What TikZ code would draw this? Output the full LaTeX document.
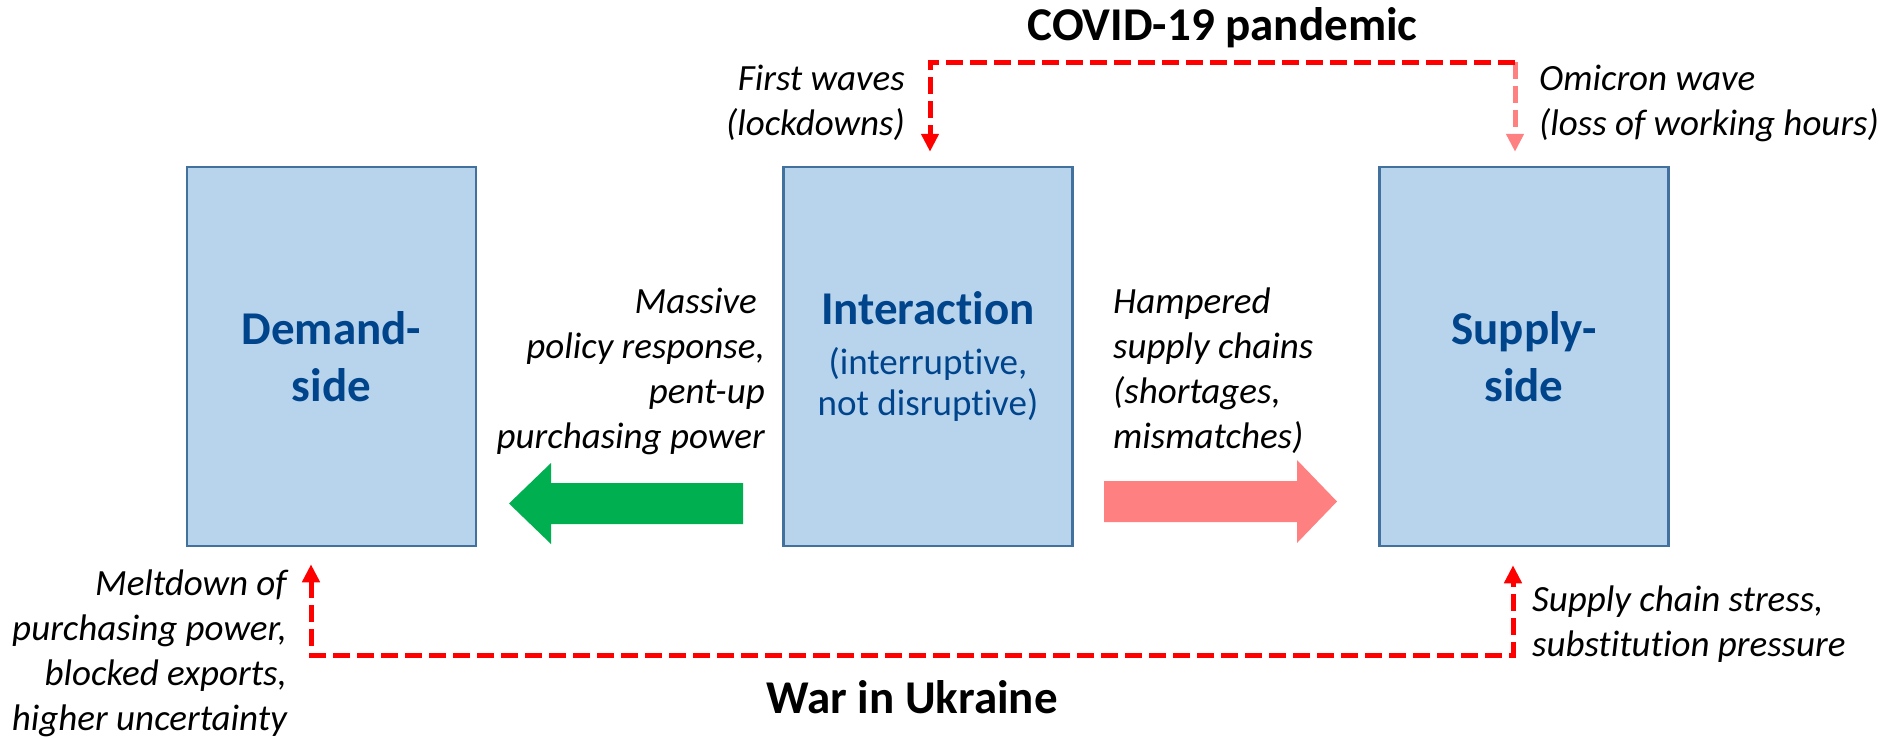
\documentclass[tikz,border=0pt]{standalone}
\usepackage{fontspec}
\setmainfont{Carlito}[Ligatures=NoCommon]
\usetikzlibrary{arrows.meta,calc}
\definecolor{boxfill}{RGB}{183,212,236}
\definecolor{boxline}{RGB}{65,113,156}
\definecolor{boxtext}{RGB}{0,68,140}
\definecolor{shockred}{RGB}{255,0,0}
\definecolor{shockpink}{RGB}{255,128,128}
\definecolor{arrgreen}{RGB}{0,176,80}
\definecolor{arrsalmon}{RGB}{255,128,128}
\begin{document}
\begin{tikzpicture}[x=1pt,y=-1pt,
  sidebox/.style={draw=boxline, line width=2.5pt, fill=boxfill, minimum width=289pt, minimum height=379pt, inner sep=0pt, text=boxtext, align=center, font=\fontsize{47}{57}\selectfont\bfseries},
  lbl/.style={font=\fontsize{37}{45}\selectfont\itshape, inner sep=0pt},
  headline/.style={font=\fontsize{47}{57}\selectfont\bfseries, inner sep=0pt, anchor=base},
  shock/.style={draw=shockred, line width=5pt, dash pattern=on 17pt off 7pt},
  tip/.style={-{Triangle[width=17pt,length=18pt]}},
]
\useasboundingbox (0,0) rectangle (1887,737);

% boxes
\node[sidebox] (dem) at (331.5,356.5) {Demand-\\side};
\node[sidebox, font=\fontsize{37}{41}\selectfont] (int) at (928,356.5) {{\fontsize{47}{57}\selectfont\bfseries Interaction}\\[9pt](interruptive,\\not disruptive)};
\node[sidebox] (sup) at (1524,356.5) {Supply-\\side};

% block arrows
\fill[arrgreen] (743,483) -- (551,483) -- (551,463) -- (509,503.5) -- (551,544) -- (551,524) -- (743,524) -- cycle;
\fill[arrsalmon] (1104,481) -- (1297,481) -- (1297,460) -- (1337,501.5) -- (1297,543) -- (1297,522) -- (1104,522) -- cycle;

% COVID connectors
\coordinate (tI) at ($(int.north)+(2,-14)$);
\coordinate (tS) at ($(sup.north)+(-9,-14)$);
\coordinate (cA) at (tS |- 0,62);
\coordinate (cB) at (tI |- 0,62);
\draw[shock, draw=shockpink, tip] (cA) -- (tS);
\draw[shock, tip] (cA) -- (cB) -- (tI);

% War connectors
\coordinate (dD) at ($(dem.south)+(-20.5,17)$);
\coordinate (dS) at ($(sup.south)+(-11,18)$);
\coordinate (bL) at (dD |- 0,655);
\coordinate (bR) at (dS |- 0,655);
\draw[shock, {Triangle[width=17pt,length=18pt]}-{Triangle[width=17pt,length=18pt]}] (dD) -- (bL) -- (bR) -- (dS);

% headlines
\node[headline] (covid) at (1222.5,40) {COVID-19 pandemic};
\node[headline] (war) at (912,713) {War in Ukraine};

% labels (base anchor = baseline of last line)
\node[lbl, anchor=base east, align=right] (lfirst) at (905,135) {First waves\\(lockdowns)};
\node[lbl, anchor=base west, align=left] (lomi) at (1539,135) {Omicron wave\\(loss of working hours)};
\node[lbl, anchor=base east, align=right] (lmass) at (765,448) {Massive\hspace*{8pt}\\policy response,\\pent-up\hspace*{8pt}\\purchasing power};
\node[lbl, anchor=base west, align=left] (lhamp) at (1113,448) {Hampered\\supply chains\\(shortages,\\mismatches)};
\node[lbl, anchor=base east, align=right] (lmelt) at (287,730) {Meltdown of\\purchasing power,\\blocked exports,\\higher uncertainty};
\node[lbl, anchor=base west, align=left] (lsubst) at (1532,656) {Supply chain stress,\\substitution pressure};
\end{tikzpicture}
\end{document}
